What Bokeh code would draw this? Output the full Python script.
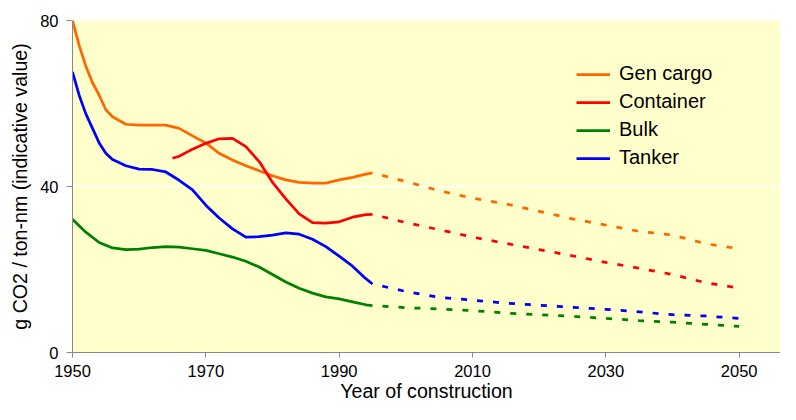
from bokeh.plotting import figure
from bokeh.models import Range1d, FixedTicker, Legend, LegendItem
from bokeh.embed import file_html
from bokeh.resources import INLINE

# ---- data ----
series_names = ["Gen cargo", "Container", "Bulk", "Tanker"]

gen_years = [1950, 1951, 1952, 1953, 1954, 1955, 1956, 1958, 1960, 1962, 1964, 1966, 1968, 1970,
             1972, 1974, 1976, 1978, 1980, 1982, 1984, 1986, 1988, 1990, 1992, 1994, 1995]
gen_vals = [80, 74, 69, 65, 62, 58.5, 56.8, 55, 54.8, 54.8, 54.8, 54, 52.2, 50.5,
            48, 46.4, 45, 43.8, 42.6, 41.6, 41, 40.8, 40.8, 41.6, 42.2, 43, 43.3]

con_years = [1965, 1966, 1968, 1970, 1972, 1974, 1976, 1978, 1980, 1982, 1984, 1986, 1988,
             1990, 1992, 1994, 1995]
con_vals = [46.8, 47.3, 49, 50.4, 51.5, 51.6, 49.6, 46, 41, 37, 33.4, 31.3, 31.2,
            31.5, 32.6, 33.2, 33.3]

bulk_years = [1950, 1952, 1954, 1956, 1958, 1960, 1962, 1964, 1966, 1968, 1970, 1972, 1974,
              1976, 1978, 1980, 1982, 1984, 1986, 1988, 1990, 1992, 1994, 1995]
bulk_vals = [32.1, 29, 26.5, 25.2, 24.8, 24.9, 25.3, 25.5, 25.4, 25, 24.6, 23.8, 23,
             22, 20.6, 18.8, 17, 15.5, 14.3, 13.4, 12.9, 12.2, 11.5, 11.3]

tank_years = [1950, 1951, 1952, 1953, 1954, 1955, 1956, 1958, 1960, 1962, 1964, 1966, 1968,
              1970, 1972, 1974, 1976, 1978, 1980, 1982, 1984, 1986, 1988, 1990, 1992, 1994, 1995]
tank_vals = [67.6, 62, 57.5, 54, 50.5, 48, 46.5, 45, 44.2, 44.1, 43.5, 41.5, 39.2,
             35.5, 32.4, 29.8, 27.8, 27.9, 28.3, 28.8, 28.5, 27.3, 25.5, 23.2, 20.8, 17.8, 16.5]

proj_years = [1995, 2000, 2005, 2010, 2015, 2020, 2025, 2030, 2035, 2040, 2045, 2050]
gen_proj = [43.3, 41.2, 39, 37.2, 35.8, 34, 32.2, 30.7, 29.2, 28.3, 26.2, 25]
con_proj = [33.3, 31.3, 29.6, 27.8, 26.3, 24.8, 23.3, 21.7, 20.3, 18.8, 16.8, 15.5]
bulk_proj = [11.3, 10.8, 10.5, 10.1, 9.5, 9.1, 8.7, 8.2, 7.7, 7.3, 6.8, 6.3]
tank_proj = [16.5, 14.7, 13.3, 12.6, 11.9, 11.4, 10.9, 10.4, 9.8, 9.1, 8.8, 8.2]

x_ticks = [1950, 1970, 1990, 2010, 2030, 2050]
y_ticks = [0, 40, 80]

colors = ["#FF6600", "#FF0000", "#008000", "#0000FF"]
FONT = "Liberation Sans"

p = figure(width=780, height=404, output_backend="svg", toolbar_location=None,
           x_range=Range1d(1950, 2056.2), y_range=Range1d(0, 80),
           min_border_left=72, min_border_top=20, min_border_right=0, min_border_bottom=40)

p.background_fill_color = "#FFFFCC"
p.border_fill_color = "white"
p.outline_line_color = None

p.xgrid.visible = False
p.ygrid.ticker = FixedTicker(ticks=[40])
p.ygrid.grid_line_color = "white"
p.ygrid.grid_line_width = 1.5

for ax in (p.xaxis[0], p.yaxis[0]):
    ax.axis_line_color = "#888888"
    ax.major_tick_line_color = "#888888"
    ax.minor_tick_line_color = None
    ax.major_tick_in = 0
    ax.major_label_text_font = FONT
    ax.major_label_text_font_size = "16.5px"
    ax.major_label_text_color = "black"
    ax.axis_label_text_font = FONT
    ax.axis_label_text_font_size = "19.6px"
    ax.axis_label_text_font_style = "normal"
    ax.axis_label_text_color = "black"

p.xaxis.ticker = FixedTicker(ticks=x_ticks)
p.yaxis.ticker = FixedTicker(ticks=y_ticks)
p.xaxis.major_tick_out = 5
p.yaxis.major_tick_out = 6
p.xaxis.major_label_standoff = 7
p.yaxis.major_label_standoff = 8
p.xaxis.axis_label = "Year of construction"
p.yaxis.axis_label = "g CO2 / ton-nm (indicative value)"
p.xaxis.axis_label_standoff = 0
p.yaxis.axis_label_standoff = 6

solid = [(gen_years, gen_vals), (con_years, con_vals), (bulk_years, bulk_vals), (tank_years, tank_vals)]
proj = [gen_proj, con_proj, bulk_proj, tank_proj]

items = []
for name, col, (xs, ys), pv in zip(series_names, colors, solid, proj):
    r = p.line(xs, ys, line_color=col, line_width=2.75, line_join="round")
    p.line(proj_years, pv, line_color=col, line_width=2.75, line_dash="6 10", line_dash_offset=6)
    items.append(LegendItem(label=name, renderers=[r]))

legend = Legend(items=items, location=(504, 183))
legend.label_text_font = FONT
legend.label_text_font_size = "20px"
legend.label_text_color = "black"
legend.glyph_width = 34
legend.glyph_height = 20
legend.label_height = 20
legend.spacing = 5
legend.label_standoff = 9
legend.padding = 0
legend.margin = 0
legend.border_line_color = None
legend.background_fill_alpha = 0
p.add_layout(legend)

open("out.html", "w").write(file_html(p, INLINE))
